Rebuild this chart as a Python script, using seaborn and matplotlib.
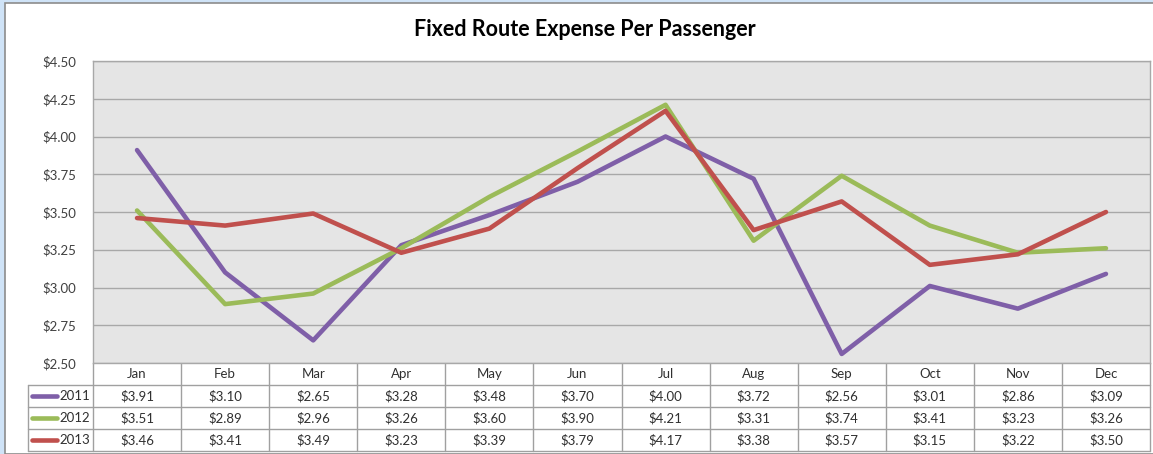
import matplotlib
matplotlib.use("Agg")
import matplotlib.pyplot as plt
import seaborn as sns
import pandas as pd
from matplotlib.patches import Rectangle
from matplotlib.lines import Line2D
from matplotlib.ticker import FuncFormatter, MultipleLocator

months = ["Jan", "Feb", "Mar", "Apr", "May", "Jun", "Jul", "Aug", "Sep", "Oct", "Nov", "Dec"]
years = ["2011", "2012", "2013"]
v2011 = [3.91, 3.10, 2.65, 3.28, 3.48, 3.70, 4.00, 3.72, 2.56, 3.01, 2.86, 3.09]
v2012 = [3.51, 2.89, 2.96, 3.26, 3.60, 3.90, 4.21, 3.31, 3.74, 3.41, 3.23, 3.26]
v2013 = [3.46, 3.41, 3.49, 3.23, 3.39, 3.79, 4.17, 3.38, 3.57, 3.15, 3.22, 3.50]
colors = ["#7F5FA8", "#9BBB59", "#C0504D"]
title = "Fixed Route Expense Per Passenger"

series = {"2011": v2011, "2012": v2012, "2013": v2013}
df = pd.DataFrame([
    {"month": i, "year": y, "value": val}
    for y in years for i, val in enumerate(series[y])
])

sns.set_style("white")
plt.rcParams["font.family"] = ["Lato", "DejaVu Sans"]

W, H = 1153, 454
fig = plt.figure(figsize=(W / 100, H / 100), dpi=100)
fig.patch.set_facecolor("#CFE3F7")
bg = Rectangle((5 / W, 0), 1.0, (H - 3) / H, transform=fig.transFigure,
               facecolor="white", edgecolor="#8C8C8C", linewidth=1.2, zorder=-5)
fig.add_artist(bg)

left, right = 93, 1150
top, bottom = 61, 363
ax = fig.add_axes([left / W, (H - bottom) / H, (right - left) / W, (bottom - top) / H])
ax.set_zorder(5)
ax.set_facecolor("#E5E5E5")

sns.lineplot(data=df, x="month", y="value", hue="year", palette=colors,
             linewidth=3.3, ax=ax, legend=False, zorder=3)

ax.set_xlim(-0.5, 11.5)
ax.set_ylim(2.5, 4.5)
ax.yaxis.set_major_locator(MultipleLocator(0.25))
ax.yaxis.set_major_formatter(FuncFormatter(lambda v, p: f"${v:.2f}"))
ax.grid(axis="y", color="#A8A8A8", linewidth=1.0, zorder=0)
ax.grid(axis="x", visible=False)
ax.set_axisbelow(True)
ax.set_xticks([])
ax.set_xlabel("")
ax.set_ylabel("")
ax.tick_params(axis="y", length=0, pad=12, labelsize=9.5, labelcolor="#404040")
for s in ax.spines.values():
    s.set_color("#A8A8A8")
    s.set_linewidth(1.0)

fig.text(585 / W, (H - 30) / H, title, ha="center", va="center",
         fontsize=15.5, fontweight="bold", color="#000000")

gc = "#A0A0A0"
row_h = 22
tab_left = 28
def fy(py):
    return (H - py) / H
def fx(px):
    return px / W
col_w = (right - left) / 12
for i in range(1, 4 + 1):
    y = bottom + i * row_h
    fig.add_artist(Line2D([fx(tab_left), fx(right)], [fy(y), fy(y)], color=gc, lw=1.0))
for j in range(13):
    x = left + j * col_w
    fig.add_artist(Line2D([fx(x), fx(x)], [fy(bottom), fy(bottom + 4 * row_h)], color=gc, lw=1.0))
fig.add_artist(Line2D([fx(tab_left), fx(tab_left)], [fy(bottom + row_h), fy(bottom + 4 * row_h)],
                      color=gc, lw=1.0))
for j, m in enumerate(months):
    fig.text(fx(left + (j + 0.5) * col_w), fy(bottom + row_h / 2), m, ha="center", va="center",
             fontsize=9.5, color="#303030")
for r, y in enumerate(years):
    cy = bottom + (r + 1.5) * row_h
    fig.add_artist(Line2D([fx(32), fx(57)], [fy(cy), fy(cy)], color=colors[r], lw=3.3,
                          solid_capstyle="round"))
    fig.text(fx(90), fy(cy), y, ha="right", va="center", fontsize=9.5, color="#303030")
    for j, val in enumerate(series[y]):
        fig.text(fx(left + (j + 0.5) * col_w), fy(cy), f"${val:.2f}", ha="center", va="center",
                 fontsize=9.5, color="#303030")

fig.savefig("out.png", dpi=100, facecolor=fig.get_facecolor())
